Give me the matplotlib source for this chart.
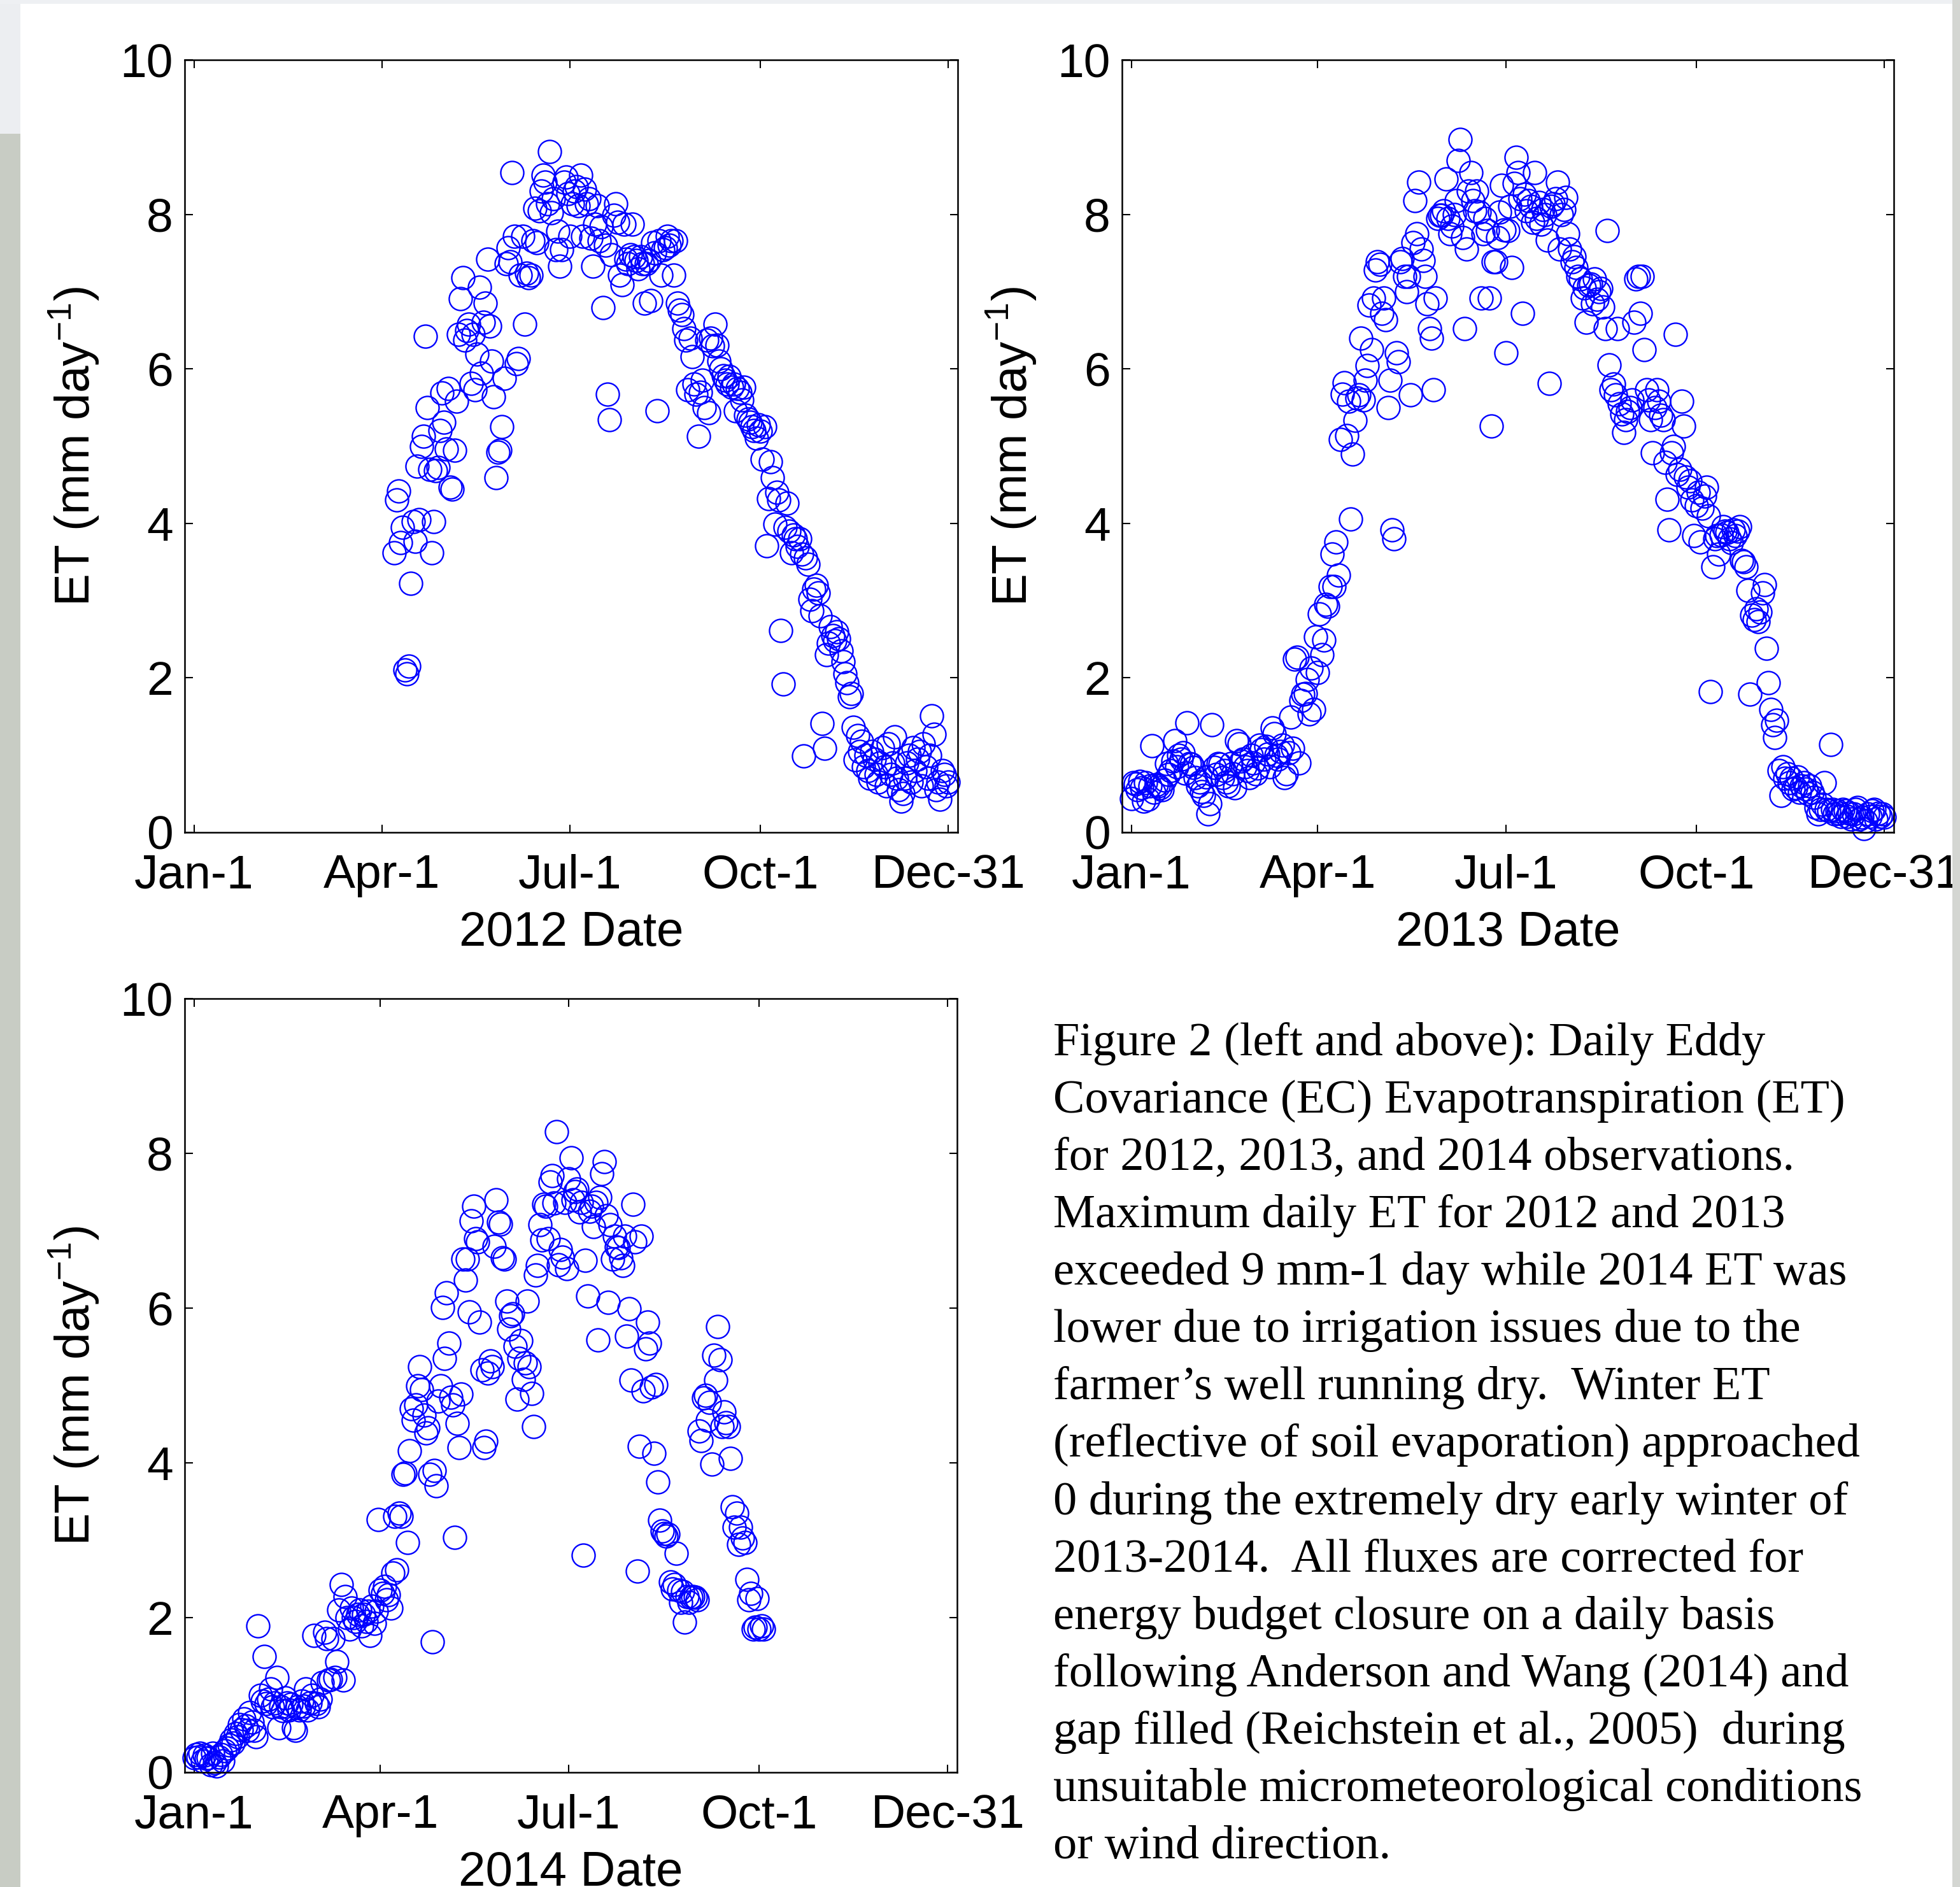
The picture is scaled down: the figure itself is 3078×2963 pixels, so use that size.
import numpy as np
import matplotlib.pyplot as plt
from matplotlib.patches import Rectangle

plt.rcParams['font.family'] = ['Liberation Sans', 'DejaVu Sans']
plt.rcParams['mathtext.default'] = 'regular'

# ---- data (day of year, Jan-1 = 0) ----
month_labels = ['Jan-1', 'Apr-1', 'Jul-1', 'Oct-1', 'Dec-31']
tick_days_2012 = [0, 91, 182, 274, 365]
tick_days_2013 = [0, 90, 181, 273, 364]
y_ticks = [0, 2, 4, 6, 8, 10]

days_2012 = list(range(97, 366))
et_2012 = [
    3.62, 4.30, 4.42, 3.75, 3.95, 2.10, 2.05, 2.15, 3.22, 4.02,
    3.77, 4.74, 4.05, 5.00, 5.13, 6.42, 5.50, 4.70, 3.62, 4.02,
    4.68, 4.72, 5.20, 5.69, 5.31, 4.96, 5.75, 4.47, 4.44, 4.95,
    5.58, 6.45, 6.91, 7.18, 6.37, 6.50, 6.58, 5.81, 6.45, 5.73,
    6.19, 7.06, 5.94, 6.60, 6.85, 7.42, 6.55, 6.10, 5.64, 4.59,
    4.92, 4.95, 5.25, 5.88, 7.36, 7.57, 7.39, 8.54, 7.72, 6.07,
    6.13, 7.21, 7.72, 6.58, 7.24, 7.18, 7.21, 7.66, 8.08, 7.63,
    8.05, 8.30, 8.51, 8.42, 8.14, 8.81, 8.02, 8.20, 7.54, 7.78,
    7.33, 7.54, 8.42, 8.48, 8.27, 7.72, 8.14, 8.30, 8.36, 8.11,
    8.51, 7.72, 8.33, 8.14, 8.20, 7.69, 7.33, 7.87, 8.11, 7.66,
    7.84, 6.79, 7.60, 5.67, 5.34, 7.48, 7.99, 8.14, 7.90, 7.21,
    7.09, 7.87, 7.42, 7.36, 7.48, 7.87, 7.45, 7.40, 7.30, 7.45,
    7.36, 6.85, 7.36, 7.40, 6.88, 7.63, 7.50, 5.46, 7.66, 7.21,
    7.54, 7.57, 7.72, 7.60, 7.66, 7.21, 7.66, 6.85, 6.76, 6.70,
    6.52, 6.37, 5.73, 6.40, 6.16, 5.80, 5.67, 5.13, 5.70, 5.85,
    5.50, 6.37, 5.43, 6.40, 6.30, 6.58, 6.31, 6.10, 6.00, 5.91,
    5.85, 5.80, 5.90, 5.76, 5.80, 5.46, 5.75, 5.70, 5.60, 5.76,
    5.40, 5.35, 5.31, 5.25, 5.20, 5.10, 5.28, 5.19, 4.83, 5.25,
    3.71, 4.32, 4.80, 4.59, 3.99, 4.40, 4.30, 2.61, 1.92, 3.95,
    4.26, 3.90, 3.62, 3.85, 3.80, 3.70, 3.80, 3.60, 0.99, 3.55,
    3.47, 3.02, 2.87, 3.15, 3.20, 3.10, 2.80, 1.41, 1.09, 2.30,
    2.45, 2.66, 2.55, 2.48, 2.60, 2.51, 2.35, 2.21, 2.05, 1.94,
    1.76, 1.80, 1.36, 0.94, 1.25, 1.05, 1.18, 0.85, 1.00, 0.80,
    0.70, 1.05, 0.95, 0.75, 0.65, 0.90, 1.10, 0.85, 0.60, 1.15,
    0.75, 0.90, 1.24, 0.70, 0.55, 0.40, 0.50, 0.70, 0.90, 1.00,
    0.65, 1.10, 0.80, 0.95, 1.05, 0.60, 1.15, 0.85, 0.70, 1.00,
    1.51, 1.27, 0.55, 0.65, 0.43, 0.80, 0.75, 0.60, 0.65,
]

days_2013 = list(range(0, 365))
et_2013 = [
    0.44, 0.64, 0.63, 0.55, 0.66, 0.58, 0.40, 0.64, 0.43, 0.60,
    1.12, 0.52, 0.62, 0.60, 0.58, 0.55, 0.68, 0.89, 0.75, 0.80,
    0.92, 1.19, 0.85, 1.00, 0.95, 1.03, 0.77, 1.42, 0.89, 0.88,
    0.84, 0.71, 0.60, 0.65, 0.53, 0.48, 0.72, 0.24, 0.37, 1.39,
    0.84, 0.75, 0.89, 0.88, 0.71, 0.80, 0.65, 0.60, 0.89, 0.76,
    0.58, 1.19, 1.15, 0.92, 0.95, 0.85, 0.80, 0.71, 1.00, 0.90,
    0.76, 0.83, 1.13, 1.07, 0.95, 1.11, 1.01, 0.85, 1.35, 1.28,
    1.00, 0.95, 1.05, 1.13, 0.71, 0.76, 1.03, 1.49, 1.09, 2.24,
    2.27, 0.90, 1.71, 1.79, 1.80, 1.98, 1.53, 2.13, 1.59, 2.53,
    2.07, 2.83, 2.30, 2.49, 2.95, 2.93, 3.18, 3.60, 3.18, 3.76,
    3.33, 5.09, 5.67, 5.82, 5.14, 5.58, 4.06, 4.90, 5.33, 5.62,
    5.66, 6.40, 5.60, 5.85, 6.04, 6.83, 6.25, 6.92, 7.28, 7.39,
    7.35, 6.72, 6.92, 6.64, 5.50, 5.85, 3.92, 3.80, 6.21, 6.09,
    7.39, 7.43, 7.20, 7.00, 7.20, 5.66, 7.63, 8.18, 7.75, 8.42,
    7.55, 7.40, 7.20, 6.84, 6.52, 6.40, 5.73, 6.92, 7.95, 7.99,
    7.99, 8.05, 8.46, 7.95, 7.75, 7.85, 8.00, 8.18, 8.70, 8.97,
    7.70, 6.52, 7.55, 8.30, 8.54, 8.18, 8.05, 8.30, 8.03, 6.92,
    7.75, 7.95, 7.79, 6.92, 5.26, 7.39, 7.39, 7.70, 8.03, 8.38,
    7.80, 6.21, 7.79, 8.10, 7.31, 8.40, 8.74, 8.54, 8.20, 6.72,
    8.26, 8.05, 8.18, 8.10, 7.90, 8.54, 7.95, 8.15, 7.87, 8.06,
    8.00, 7.67, 5.81, 8.10, 8.14, 8.20, 8.42, 7.55, 8.00, 8.06,
    8.22, 7.75, 7.55, 7.39, 7.45, 7.31, 7.20, 7.16, 6.92, 7.05,
    6.60, 7.08, 7.10, 6.84, 7.16, 6.90, 7.00, 7.04, 6.80, 6.52,
    7.79, 6.05, 5.73, 5.80, 5.66, 6.52, 5.55, 5.42, 5.18, 5.34,
    5.45, 5.50, 5.60, 6.60, 7.16, 7.20, 6.72, 7.20, 6.25, 5.73,
    5.60, 5.34, 4.91, 5.50, 5.73, 5.58, 5.40, 5.34, 4.79, 4.31,
    3.92, 4.91, 5.00, 6.45, 4.63, 4.70, 5.58, 5.26, 4.60, 4.47,
    4.55, 4.30, 3.84, 4.23, 4.40, 3.76, 4.20, 4.35, 4.47, 4.10,
    1.82, 3.44, 3.80, 3.84, 3.60, 3.85, 3.96, 3.90, 3.88, 3.80,
    3.75, 3.92, 3.84, 3.90, 3.96, 3.52, 3.50, 3.44, 3.13, 1.79,
    2.81, 2.75, 2.89, 2.73, 2.85, 3.10, 3.21, 2.38, 1.94, 1.59,
    1.39, 1.23, 1.45, 0.80, 0.48, 0.85, 0.70, 0.76, 0.64, 0.70,
    0.56, 0.58, 0.72, 0.52, 0.60, 0.64, 0.56, 0.50, 0.60, 0.52,
    0.45, 0.32, 0.24, 0.30, 0.36, 0.64, 0.30, 0.28, 1.14, 0.30,
    0.24, 0.28, 0.25, 0.21, 0.30, 0.28, 0.21, 0.25, 0.17, 0.24,
    0.30, 0.32, 0.17, 0.20, 0.05, 0.15, 0.24, 0.21, 0.28, 0.30,
    0.17, 0.25, 0.21, 0.24, 0.20,
]

days_2014 = list(range(0, 276))
et_2014 = [
    0.19, 0.23, 0.20, 0.25, 0.15, 0.22, 0.18, 0.19, 0.10, 0.25,
    0.12, 0.08, 0.20, 0.23, 0.15, 0.28, 0.31, 0.35, 0.42, 0.38,
    0.50, 0.46, 0.62, 0.55, 0.69, 0.60, 0.54, 0.77, 0.65, 0.54,
    0.46, 1.89, 1.00, 0.92, 1.50, 0.89, 0.95, 1.08, 0.85, 0.90,
    1.23, 0.58, 0.85, 0.80, 0.96, 0.90, 0.81, 0.88, 0.58, 0.54,
    0.85, 0.81, 0.92, 0.86, 1.08, 0.81, 0.90, 1.00, 1.77, 0.89,
    0.85, 0.95, 1.16, 1.81, 1.73, 1.19, 1.20, 1.73, 1.23, 1.43,
    2.10, 2.43, 1.19, 2.27, 2.00, 1.85, 2.12, 2.00, 1.95, 2.04,
    2.10, 1.89, 2.04, 1.95, 2.08, 1.77, 2.15, 1.93, 2.08, 3.27,
    2.35, 2.31, 2.40, 2.23, 2.30, 2.12, 2.58, 3.31, 2.62, 3.35,
    3.31, 3.85, 3.87, 2.97, 4.16, 4.70, 4.55, 4.75, 5.00, 5.24,
    4.95, 4.62, 4.39, 4.45, 3.85, 1.69, 3.90, 3.70, 4.80, 5.00,
    6.01, 5.35, 6.20, 5.55, 4.85, 4.75, 3.04, 4.51, 4.20, 4.89,
    6.63, 6.36, 6.63, 5.95, 7.13, 7.32, 6.90, 6.86, 5.82, 5.20,
    4.20, 4.28, 5.16, 5.32, 5.24, 6.80, 7.40, 7.11, 7.09, 6.65,
    6.63, 6.09, 5.73, 5.90, 5.93, 5.51, 4.82, 5.35, 5.58, 5.08,
    5.29, 6.09, 5.24, 4.90, 4.47, 6.43, 6.55, 7.08, 6.88, 7.34,
    7.32, 6.90, 7.63, 7.71, 7.36, 8.28, 6.56, 6.76, 6.66, 7.37,
    6.51, 7.67, 7.94, 7.40, 7.51, 7.54, 7.24, 7.37, 2.81, 6.62,
    6.16, 7.25, 7.32, 7.05, 7.37, 5.59, 7.43, 7.74, 7.89, 7.19,
    6.07, 7.08, 6.63, 6.93, 6.79, 6.78, 6.65, 6.55, 6.93, 5.64,
    5.99, 5.07, 7.34, 6.86, 2.60, 4.21, 6.93, 4.93, 5.47, 5.82,
    5.55, 4.98, 4.12, 5.01, 3.75, 3.26, 3.12, 3.09, 3.05, 3.08,
    2.46, 2.37, 2.43, 2.83, 2.35, 2.20, 2.34, 1.94, 2.27, 2.20,
    2.26, 2.27, 2.26, 2.23, 4.41, 4.29, 4.84, 4.87, 4.55, 4.78,
    3.98, 5.39, 5.07, 5.76, 5.33, 4.47, 4.66, 4.52, 4.47, 4.06,
    3.43, 3.17, 3.35, 2.95, 3.17, 3.03, 2.97, 2.49, 2.23, 2.31,
    1.85, 1.88, 2.25, 1.85, 1.89, 1.85,
]

caption_lines = [
    "Figure 2 (left and above): Daily Eddy",
    "Covariance (EC) Evapotranspiration (ET)",
    "for 2012, 2013, and 2014 observations.",
    "Maximum daily ET for 2012 and 2013",
    "exceeded 9 mm-1 day while 2014 ET was",
    "lower due to irrigation issues due to the",
    "farmer\u2019s well running dry.  Winter ET",
    "(reflective of soil evaporation) approached",
    "0 during the extremely dry early winter of",
    "2013-2014.  All fluxes are corrected for",
    "energy budget closure on a daily basis",
    "following Anderson and Wang (2014) and",
    "gap filled (Reichstein et al., 2005)  during",
    "unsuitable micrometeorological conditions",
    "or wind direction.",
]

W, H = 3078, 2963
fig = plt.figure(figsize=(W / 100, H / 100), dpi=100, facecolor='white')


def px_rect(left, top, right, bottom):
    return [left / W, 1 - bottom / H, (right - left) / W, (bottom - top) / H]


def draw_panel(rect, days, et, tick_days, year, xmax):
    ax = fig.add_axes(rect)
    ax.plot(days, et, linestyle='none', marker='o', markersize=26,
            markerfacecolor='none', markeredgecolor='#0000ff',
            markeredgewidth=1.7, clip_on=False)
    ax.set_xlim(-4.5, xmax)
    ax.set_ylim(0, 10)
    ax.set_xticks(tick_days)
    ax.set_xticklabels(month_labels)
    ax.set_yticks(y_ticks)
    ax.tick_params(direction='in', length=9, width=1.5, top=True,
                   right=True, labelsize=54)
    ax.tick_params(axis='x', pad=24)
    ax.tick_params(axis='y', pad=13)
    for s in ax.spines.values():
        s.set_linewidth(1.8)
    ax.set_xlabel(f'{year} Date', fontsize=55)
    ax.xaxis.set_label_coords(0.5, -0.101)
    ax.set_ylabel('ET (mm day$^{-1}$)', fontsize=55)
    ax.yaxis.set_label_coords(-0.108, 0.5)
    return ax


draw_panel(px_rect(290, 94, 1504, 1307), days_2012, et_2012,
           tick_days_2012, 2012, 369.5)
draw_panel(px_rect(1762, 94, 2974, 1307), days_2013, et_2013,
           tick_days_2013, 2013, 368.5)
draw_panel(px_rect(290, 1568, 1503, 2783), days_2014, et_2014,
           tick_days_2013, 2014, 368.5)

# caption block
base0, step = 1657, 90.07
for i, line in enumerate(caption_lines):
    fig.text(1654 / W, 1 - (base0 + i * step) / H, line,
             family=['Liberation Serif', 'DejaVu Serif'], fontsize=53.5,
             ha='left', va='baseline')

# photo border bits at the edges
fig.patches.append(Rectangle((0, 0), 32 / W, 1 - 210 / H, transform=fig.transFigure,
                             facecolor='#c8ccc4', edgecolor='none', zorder=5))
fig.patches.append(Rectangle((0, 1 - 210 / H), 32 / W, 210 / H, transform=fig.transFigure,
                             facecolor='#eceef1', edgecolor='none', zorder=5))
fig.patches.append(Rectangle((0, 1 - 6 / H), 1, 6 / H, transform=fig.transFigure,
                             facecolor='#eef0f3', edgecolor='none', zorder=5))
fig.patches.append(Rectangle((3066 / W, 0), 12 / W, 1, transform=fig.transFigure,
                             facecolor='#d4d6d2', edgecolor='none', zorder=5))

fig.savefig('out.png', dpi=100, facecolor=fig.get_facecolor())
